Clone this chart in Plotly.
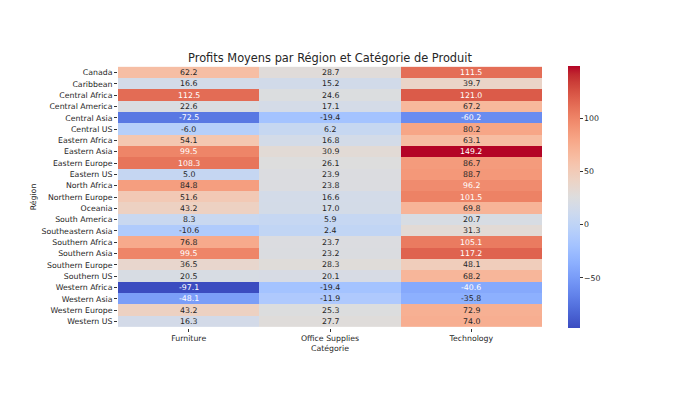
import plotly.graph_objects as go
import numpy as np

regions = ["Canada", "Caribbean", "Central Africa", "Central America", "Central Asia",
           "Central US", "Eastern Africa", "Eastern Asia", "Eastern Europe", "Eastern US",
           "North Africa", "Northern Europe", "Oceania", "South America", "Southeastern Asia",
           "Southern Africa", "Southern Asia", "Southern Europe", "Southern US",
           "Western Africa", "Western Asia", "Western Europe", "Western US"]
categories = ["Furniture", "Office Supplies", "Technology"]
furniture = [62.2, 16.6, 112.5, 22.6, -72.5, -6.0, 54.1, 99.5, 108.3, 5.0, 84.8, 51.6,
             43.2, 8.3, -10.6, 76.8, 99.5, 36.5, 20.5, -97.1, -48.1, 43.2, 16.3]
office = [28.7, 15.2, 24.6, 17.1, -19.4, 6.2, 16.8, 30.9, 26.1, 23.9, 23.8, 16.6,
          17.0, 5.9, 2.4, 23.7, 23.2, 28.3, 20.1, -19.4, -11.9, 25.3, 27.7]
technology = [111.5, 39.7, 121.0, 67.2, -60.2, 80.2, 63.1, 149.2, 86.7, 88.7, 96.2, 101.5,
              69.8, 20.7, 31.3, 105.1, 117.2, 48.1, 68.2, -40.6, -35.8, 72.9, 74.0]
cbar_ticks = [-50, 0, 50, 100]

cw = [(59,76,192),(68,90,204),(77,104,215),(87,117,225),(98,130,234),(108,142,241),
      (119,154,247),(130,165,251),(141,176,254),(152,185,255),(163,194,255),(174,201,253),
      (184,208,249),(194,213,244),(204,217,238),(213,219,230),(221,221,221),(229,216,209),
      (236,211,197),(241,204,185),(245,196,173),(247,187,160),(247,177,148),(247,166,135),
      (244,154,123),(241,141,111),(236,127,99),(229,112,88),(222,96,77),(213,80,66),
      (203,62,56),(192,40,47),(180,4,38)]
n = len(cw) - 1
colorscale = [[i / n, "rgb(%d,%d,%d)" % c] for i, c in enumerate(cw)]

z = np.array([furniture, office, technology]).T
zmin, zmax = z.min(), z.max()

def cmap(v):
    t = (v - zmin) / (zmax - zmin) * n
    i = min(int(t), n - 1)
    f = t - i
    return [(cw[i][k] + (cw[i + 1][k] - cw[i][k]) * f) / 255 for k in range(3)]

def lum(rgb):
    out = []
    for c in rgb:
        out.append(c / 12.92 if c <= 0.03928 else ((c + 0.055) / 1.055) ** 2.4)
    return 0.2126 * out[0] + 0.7152 * out[1] + 0.0722 * out[2]

FS = 7.8

fig = go.Figure(go.Heatmap(
    z=z, x=categories, y=regions, colorscale=colorscale, zmin=zmin, zmax=zmax,
    colorbar=dict(thickness=12, len=1, lenmode="fraction", x=1.061, xanchor="left",
                  y=0.5, yanchor="middle", yref="paper", xpad=0, ypad=0,
                  outlinewidth=0, ticks="outside", ticklen=3, tickwidth=0.8,
                  tickcolor="#333", tickvals=cbar_ticks,
                  ticktext=[str(t).replace("-", "\u2212") for t in cbar_ticks],
                  tickfont=dict(size=FS, color="#262626")),
    hoverinfo="skip"))

annotations = []
for r, reg in enumerate(regions):
    for c, cat in enumerate(categories):
        v = z[r, c]
        col = "white" if lum(cmap(v)) < 0.408 else "#262626"
        annotations.append(dict(x=cat, y=reg, text="%.1f" % v, showarrow=False,
                                font=dict(size=FS, color=col, family="DejaVu Sans")))

fig.update_layout(
    width=680, height=402,
    margin=dict(l=118, r=138, t=66, b=74, autoexpand=False),
    paper_bgcolor="white", plot_bgcolor="white",
    font=dict(family="DejaVu Sans", size=FS, color="#262626"),
    title=dict(text="Profits Moyens par Région et Catégorie de Produit", x=0.5, xanchor="center",
               xref="paper", y=1 - 58 / 402, yanchor="middle", font=dict(size=11.4, color="#262626")),
    annotations=annotations,
)
fig.update_xaxes(title=dict(text="Catégorie", font=dict(size=FS), standoff=3),
                 ticks="outside", ticklen=3, tickwidth=0.8, tickcolor="#333",
                 showgrid=False, zeroline=False, showline=False, automargin=False)
fig.update_yaxes(title=dict(text="Région", font=dict(size=FS), standoff=3),
                 autorange="reversed", ticks="outside", ticklen=3, tickwidth=0.8,
                 tickcolor="#333", showgrid=False, zeroline=False, showline=False,
                 tickmode="array", tickvals=regions, ticktext=regions, automargin=False)

fig.write_html("out.html", config={"displayModeBar": False},
               post_script="document.body.style.margin='0';")
